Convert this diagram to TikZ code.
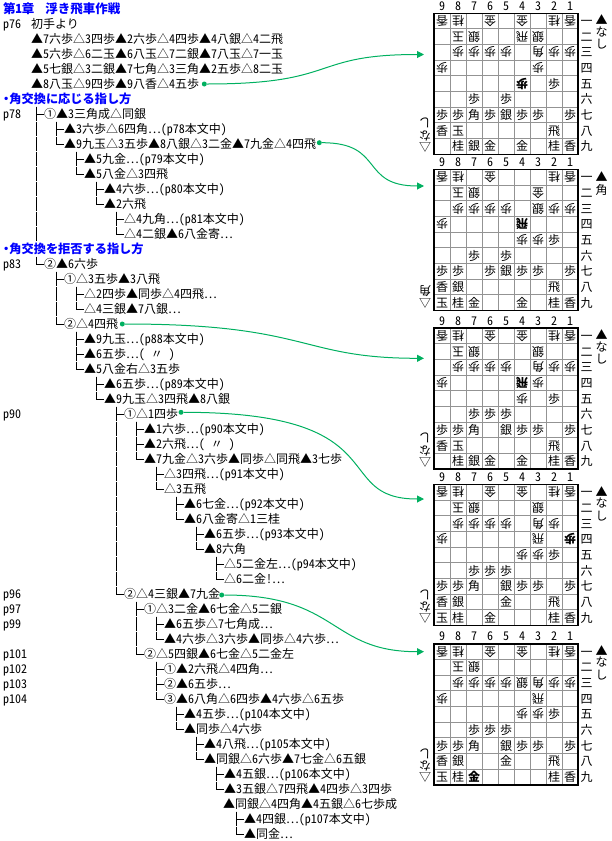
\documentclass[tikz,border=0pt]{standalone}
\usepackage{fontspec}
\setmainfont[RawFeature=+hwid]{Noto Sans CJK JP}
\usetikzlibrary{arrows.meta}
\definecolor{linkgreen}{RGB}{0,176,96}
\tikzset{
  base/.style={inner sep=0pt,text height=10.5pt,text depth=1.5pt,font=\fontsize{12}{15}\selectfont},
  rowtext/.style={base,anchor=west,minimum height=15pt},
  heading/.style={rowtext,text=blue,font=\fontsize{12.2}{15}\selectfont\bfseries},
  piece/.style={base},
  gote/.style={base,rotate=180},
  tree/.style={line width=.9pt,dash pattern=on 14pt off 1pt},
  tick/.style={line width=.9pt},
  startdot/.style={circle,fill=linkgreen,inner sep=0pt,minimum size=5pt},
  link/.style={linkgreen,line width=1pt,-{Triangle[length=7pt,width=7pt]}}
}
% #1 name, #2 top, #3 gote pieces, #4 sente pieces, #5 hand
\newcommand{\shogiboard}[5]{%
  \begin{scope}[shift={(434,#2)}]
    \foreach \i in {1,...,8} {
      \draw[gray!85,line width=1pt] ({16*\i},0) -- ({16*\i},141);
      \draw[gray!85,line width=1pt] (0,{15.67*\i}) -- (144,{15.67*\i});
    }
    \draw[line width=1.6pt] (0,0) rectangle (144,141);
    \foreach \col in {1,...,9}
      \node[piece] (#1-file\col) at ({16*(9-\col)+8},-7.5) {\col};
    \foreach \rank/\kan in {1/一,2/二,3/三,4/四,5/五,6/六,7/七,8/八,9/九}
      \node[piece] (#1-rank\rank) at (152.7,{15.67*(\rank-.5)}) {\kan};
    \foreach \col/\rank/\pc in {#3}
      \node[gote] (#1-\col\rank) at ({16*(9-\col)+8},{15.67*(\rank-.5)}) {\pc};
    \foreach \col/\rank/\pc in {#4}
      \node[piece] (#1-\col\rank) at ({16*(9-\col)+8},{15.67*(\rank-.5)}) {\pc};
    % hands
    \node[piece] (#1-sente) at (167.7,7) {▲};
    \node[piece] (#1-gotemark) at (-9,133.5) {▽};
    \foreach \d/\pc in {#5} {
      \node[piece] (#1-s\d) at (167.7,\d) {\pc};
      \node[gote] (#1-g\d) at (-9,{141-\d}) {\pc};
    }
  \end{scope}
}
\begin{document}
\begin{tikzpicture}[x=1pt,y=-1pt]
  \useasboundingbox (0,0) rectangle (612,841);

  % headings
  \node[heading,font=\fontsize{12.5}{15}\selectfont\bfseries] (r0) at (3,9) {第1章\kern11pt浮き飛車作戦};
  \node[heading] (r6) at (3,99) {\kern-3pt・\kern-3pt角交換に応じる指し方};
  \node[heading] (r16) at (3,249) {\kern-3pt・\kern-3pt角交換を拒否する指し方};

  % page numbers
  \foreach \rw/\pg in {1/76,7/78,17/83,27/90,39/96,40/97,41/99,43/101,44/102,45/103,46/104}
    \node[rowtext] (pg\pg) at (3,{9+15*\rw}) {p\pg};

  % moves
  \foreach \rw/\xpos/\txt in {
    1/31/初手より,
    2/31/▲7六歩△3四歩▲2六歩△4四歩▲4八銀△4二飛,
    3/31/▲5六歩△6二玉▲6八玉△7二銀▲7八玉△7一玉,
    4/31/▲5七銀△3二銀▲7七角△3三角▲2五歩△8二玉,
    5/31/▲8八玉△9四歩▲9八香△4五歩,
    7/44/①▲3三角成△同銀,
    8/64/▲3六歩△6四角⋯(p78本文中),
    9/64/▲9九玉△3五歩▲8八銀△3二金▲7九金△4四飛,
    10/84/▲5九金⋯(p79本文中),
    11/84/▲5八金△3四飛,
    12/104/▲4六歩⋯(p80本文中),
    13/104/▲2六飛,
    14/124/△4九角⋯(p81本文中),
    15/124/△4二銀▲6八金寄⋯,
    17/44/②▲6六歩,
    18/64/①△3五歩▲3八飛,
    19/84/△2四歩▲同歩△4四飛⋯,
    20/84/△4三銀▲7八銀⋯,
    21/64/②△4四飛,
    22/84/▲9九玉⋯(p88本文中),
    23/84/▲6五歩⋯(\kern6pt〃\kern6pt),
    24/84/▲5八金右△3五歩,
    25/104/▲6五歩⋯(p89本文中),
    26/104/▲9九玉△3四飛▲8八銀,
    27/124/①△1四歩,
    28/144/▲1六歩⋯(p90本文中),
    29/144/▲2六飛⋯(\kern6pt〃\kern6pt),
    30/144/▲7九金△3六歩▲同歩△同飛▲3七歩,
    31/164/△3四飛⋯(p91本文中),
    32/164/△3五飛,
    33/184/▲6七金⋯(p92本文中),
    34/184/▲6八金寄△1三桂,
    35/204/▲6五歩⋯(p93本文中),
    36/204/▲8六角,
    37/224/△5二金左⋯(p94本文中),
    38/224/△6二金!⋯,
    39/124/②△4三銀▲7九金,
    40/144/①△3二金▲6七金△5二銀,
    41/164/▲6五歩△7七角成⋯,
    42/164/▲4六歩△3六歩▲同歩△4六歩⋯,
    43/144/②△5四銀▲6七金△5二金左,
    44/164/①▲2六飛△4四角⋯,
    45/164/②▲6五歩⋯,
    46/164/③▲6八角△6四歩▲4六歩△6五歩,
    47/184/▲4五歩⋯(p104本文中),
    48/184/▲同歩△4六歩,
    49/204/▲4八飛⋯(p105本文中),
    50/204/▲同銀△6六歩▲7七金△6五銀,
    51/224/▲4五銀⋯(p106本文中),
    52/224/▲3五銀△7四飛▲4四歩△3四歩,
    53/223/▲同銀△4四角▲4五銀△6七歩成,
    54/244/▲4四銀⋯(p107本文中),
    55/244/▲同金⋯}
    \node[rowtext] (r\rw) at (\xpos,{9+15*\rw}) {\txt};

  % tree lines, parent/child
  \foreach \up/\rw in {6/7,16/17,7/8,7/9,9/10,9/11,11/12,11/13,13/14,13/15,
      17/18,17/21,18/19,18/20,21/22,21/23,21/24,24/25,24/26,26/27,26/39,
      27/28,27/29,27/30,30/31,30/32,32/33,32/34,34/35,34/36,36/37,36/38,
      39/40,39/43,40/41,40/42,43/44,43/45,43/46,46/47,46/48,48/49,48/50,
      50/51,50/52,53/54,53/55} {
    \draw[tree] ([xshift=-8pt]r\rw.west |- r\up.south) -- ([xshift=-8pt]r\rw.west);
    \draw[tick] ([xshift=-8pt]r\rw.west) -- (r\rw.west);
  }
  \draw[tree] ([xshift=-8pt]r7.west |- r6.south) -- ([xshift=-8pt]r7.west |- r15.south);

  % boards
  \shogiboard{bA}{13.3}
    {9/1/香,8/1/桂,6/1/金,4/1/金,2/1/桂,1/1/香,8/2/玉,7/2/銀,4/2/飛,3/2/銀,8/3/歩,7/3/歩,6/3/歩,5/3/歩,3/3/角,2/3/歩,1/3/歩,9/4/歩,3/4/歩,4/5/\textbf{歩}}
    {2/5/歩,7/6/歩,5/6/歩,9/7/歩,8/7/歩,7/7/角,6/7/歩,5/7/銀,4/7/歩,3/7/歩,1/7/歩,9/8/香,8/8/玉,2/8/飛,8/9/桂,7/9/銀,6/9/金,4/9/金,2/9/桂,1/9/香}
    {18.5/な,31/し}
  \shogiboard{bB}{169.6}
    {9/1/香,8/1/桂,6/1/金,2/1/桂,1/1/香,8/2/玉,7/2/銀,3/2/金,8/3/歩,7/3/歩,6/3/歩,5/3/歩,3/3/銀,2/3/歩,1/3/歩,9/4/歩,4/4/\textbf{飛},4/5/歩,3/5/歩}
    {2/5/歩,7/6/歩,5/6/歩,9/7/歩,8/7/歩,6/7/歩,5/7/銀,4/7/歩,3/7/歩,1/7/歩,9/8/香,8/8/銀,2/8/飛,9/9/玉,8/9/桂,7/9/金,4/9/金,2/9/桂,1/9/香}
    {20/角}
  \shogiboard{bC}{328}
    {9/1/香,8/1/桂,6/1/金,4/1/金,2/1/桂,1/1/香,8/2/玉,7/2/銀,3/2/銀,8/3/歩,7/3/歩,6/3/歩,5/3/歩,3/3/角,2/3/歩,1/3/歩,9/4/歩,4/4/\textbf{飛},3/4/歩,4/5/歩}
    {2/5/歩,7/6/歩,6/6/歩,5/6/歩,9/7/歩,8/7/歩,7/7/角,5/7/銀,4/7/歩,3/7/歩,1/7/歩,9/8/香,8/8/玉,2/8/飛,8/9/桂,7/9/銀,6/9/金,4/9/金,2/9/桂,1/9/香}
    {18.5/な,31/し}
  \shogiboard{bD}{484.6}
    {9/1/香,8/1/桂,6/1/金,4/1/金,2/1/桂,1/1/香,8/2/玉,7/2/銀,3/2/銀,8/3/歩,7/3/歩,6/3/歩,5/3/歩,3/3/角,2/3/歩,9/4/歩,3/4/飛,1/4/\textbf{歩},4/5/歩,3/5/歩}
    {2/5/歩,7/6/歩,6/6/歩,5/6/歩,9/7/歩,8/7/歩,7/7/角,5/7/銀,4/7/歩,3/7/歩,1/7/歩,9/8/香,8/8/銀,5/8/金,2/8/飛,9/9/玉,8/9/桂,6/9/金,2/9/桂,1/9/香}
    {18.5/な,31/し}
  \shogiboard{bE}{643.8}
    {9/1/香,8/1/桂,6/1/金,4/1/金,2/1/桂,1/1/香,8/2/玉,7/2/銀,8/3/歩,7/3/歩,6/3/歩,5/3/歩,4/3/銀,3/3/角,2/3/歩,1/3/歩,9/4/歩,3/4/飛,4/5/歩,3/5/歩}
    {2/5/歩,7/6/歩,6/6/歩,5/6/歩,9/7/歩,8/7/歩,7/7/角,5/7/銀,4/7/歩,3/7/歩,1/7/歩,9/8/香,8/8/銀,5/8/金,2/8/飛,9/9/玉,8/9/桂,7/9/\textbf{金},2/9/桂,1/9/香}
    {18.5/な,31/し}

  % links to the boards
  \node[startdot] (dotA) at (204.3,84) {};
  \node[startdot] (dotB) at (319.3,142.7) {};
  \node[startdot] (dotC) at (122.3,324) {};
  \node[startdot] (dotD) at (181,412.3) {};
  \node[startdot] (dotE) at (221.7,595) {};
  \coordinate (tipA) at (424,54.5);
  \coordinate (tipB) at (424,186);
  \coordinate (tipC) at (424,358.3);
  \coordinate (tipD) at (424,499);
  \coordinate (tipE) at (424,651.7);
  \draw[link] (dotA) .. controls +(136,0) and +(-115,0) .. (tipA);
  \draw[link] (dotB) .. controls +(66,0) and +(-65,0) .. (tipB);
  \draw[link] (dotC) .. controls +(188,0) and +(-125,0) .. (tipC);
  \draw[link] (dotD) .. controls +(219,0) and +(-95,0) .. (tipD);
  \draw[link] (dotE) .. controls +(118,0) and +(-95,0) .. (tipE);
\end{tikzpicture}
\end{document}
